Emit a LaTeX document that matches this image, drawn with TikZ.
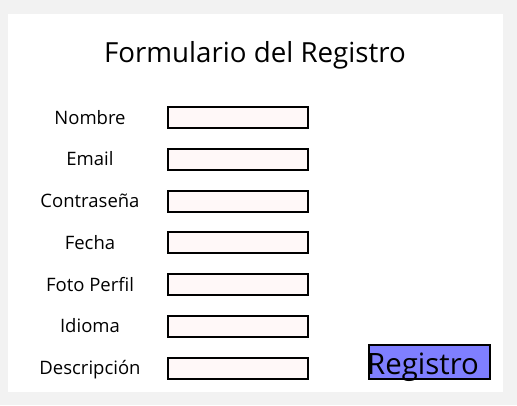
\documentclass[tikz,border=0pt]{standalone}
\usepackage{fontspec}
\setmainfont{Open Sans}
\definecolor{outerbg}{HTML}{F2F2F2}
\definecolor{fieldfill}{HTML}{FFF8F8}
\definecolor{btnfill}{HTML}{7F7FFF}
\tikzset{
  field/.style={draw=black, line width=2pt, fill=fieldfill, minimum width=140pt, minimum height=21pt, inner sep=0pt},
  lbl/.style={anchor=base, inner sep=0pt, font=\fontsize{18.5}{20}\selectfont},
}
\begin{document}
\begin{tikzpicture}[x=1pt,y=-1pt]
\useasboundingbox (0,0) rectangle (517,405);
\fill[outerbg] (0,0) rectangle (517,405);
\fill[white] (8,14) rectangle (503,392);
\node[anchor=base, inner sep=0pt, font=\fontsize{27.7}{30}\selectfont] (title) at (255,62) {Formulario del Registro};
\foreach \t [count=\i from 0] in {Nombre,Email,Contraseña,Fecha,Foto Perfil,Idioma,Descripción}{
  \pgfmathsetmacro{\yc}{117.5+41.75*\i}
  \node[field] (f\i) at (238,\yc) {};
  \node[lbl] (l\i) at (90,\yc+6.5) {\t};
}
\node[draw=black, line width=2pt, fill=btnfill, minimum width=121pt, minimum height=34pt, inner sep=0pt] (btn) at (429.5,362) {};
\node[anchor=base west, inner sep=0pt, font=\fontsize{29.4}{31}\selectfont] (btntxt) at (367,374) {Registro};
\end{tikzpicture}
\end{document}
